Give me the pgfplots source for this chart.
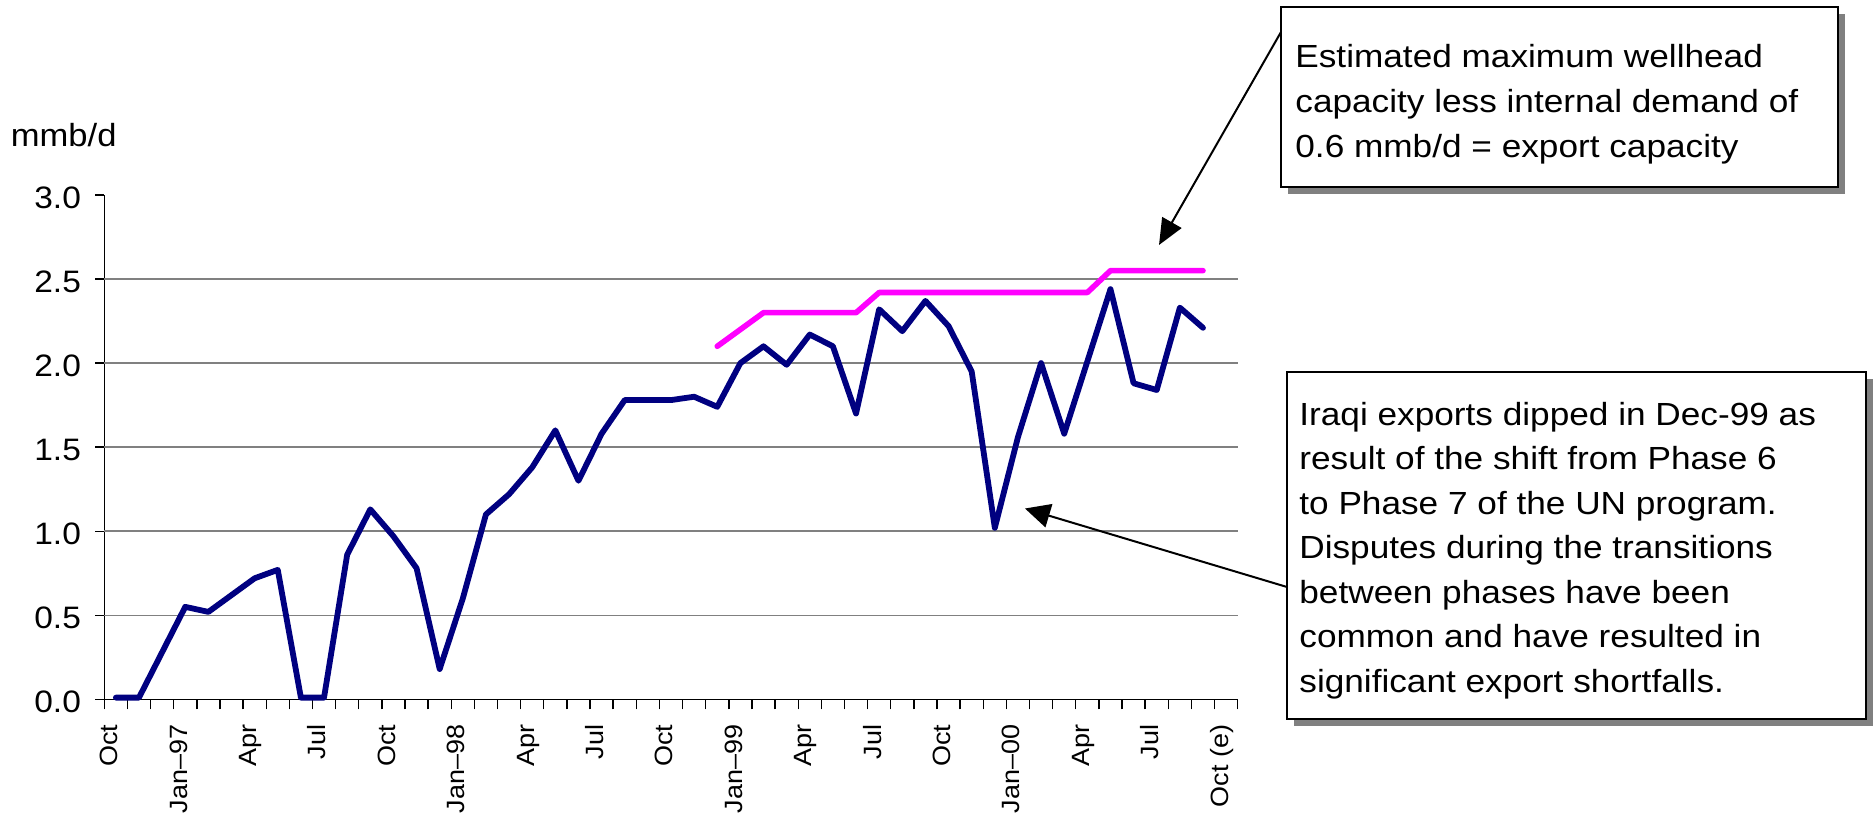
\documentclass[border=0pt]{standalone}
\usepackage{fontspec}
\setmainfont{Liberation Sans}[FakeStretch=1.08]
\newfontfamily\calloutfamily{Liberation Sans}[FakeStretch=1.1]
\usepackage{pgfplots}
\pgfplotsset{compat=1.18}
\usepackage{pgfplotstable}
\usetikzlibrary{arrows.meta}

\definecolor{exportblue}{RGB}{0,0,128}
\definecolor{capmagenta}{RGB}{255,0,255}
\definecolor{gridgray}{RGB}{128,128,128}
\definecolor{shadowgray}{RGB}{128,128,128}

% Iraqi crude exports, mmb/d; month 0 = Oct 1996
\pgfplotstableread{
month value
0 0.01
1 0.01
2 0.28
3 0.55
4 0.52
5 0.62
6 0.72
7 0.77
8 0.01
9 0.01
10 0.86
11 1.13
12 0.97
13 0.78
14 0.18
15 0.60
16 1.10
17 1.22
18 1.38
19 1.60
20 1.30
21 1.58
22 1.78
23 1.78
24 1.78
25 1.80
26 1.74
27 2.00
28 2.10
29 1.99
30 2.17
31 2.10
32 1.70
33 2.32
34 2.19
35 2.37
36 2.22
37 1.95
38 1.02
39 1.56
40 2.00
41 1.58
42 2.01
43 2.44
44 1.88
45 1.84
46 2.33
47 2.21
}\exportdata

% Export capacity (wellhead capacity less 0.6 mmb/d internal demand)
\pgfplotstableread{
month value
26 2.10
27 2.20
28 2.30
29 2.30
30 2.30
31 2.30
32 2.30
33 2.42
34 2.42
35 2.42
36 2.42
37 2.42
38 2.42
39 2.42
40 2.42
41 2.42
42 2.42
43 2.55
44 2.55
45 2.55
46 2.55
47 2.55
}\capacitydata

\newcommand{\annotfont}{\calloutfamily\fontsize{16pt}{22.5pt}\selectfont}

\begin{document}
\begin{tikzpicture}
\path[use as bounding box] (0pt,0pt) rectangle (938pt,-412.5pt);
\begin{axis}[
  at={(52.15pt,-349.65pt)}, anchor=south west,
  scale only axis, width=566.7pt, height=252.15pt,
  xmin=-0.5, xmax=48.5, ymin=0, ymax=3,
  clip=false,
  axis x line*=bottom, axis y line*=left,
  axis line style={-, black, line width=0.7pt},
  tick align=outside,
  tick style={black, line width=0.7pt},
  major tick length=4.5pt, minor tick length=5pt,
  xtick={0,3,...,48},
  xticklabels={Oct,Jan–97,Apr,Jul,Oct,Jan–98,Apr,Jul,Oct,Jan–99,Apr,Jul,Oct,Jan–00,Apr,Jul,Oct (e)},
  minor xtick={-0.5,0.5,...,48.5},
  every major x tick/.append style={draw=none},
  ytick={0,0.5,...,3},
  yticklabels={0.0,0.5,1.0,1.5,2.0,2.5,3.0},
  extra y ticks={0.5,1,1.5,2,2.5},
  extra y tick labels={},
  extra y tick style={grid=major},
  major grid style={gridgray, line width=0.75pt},
  yticklabel style={font=\fontsize{15.5pt}{17pt}\selectfont, inner sep=0pt, anchor=east,
    xshift=-7pt, yshift=-1.5pt},
  % shifts below act in the rotated frame: x runs up the page, y runs left
  xticklabel style={font=\fontsize{12.5pt}{14pt}\selectfont, rotate=90, anchor=east,
    inner sep=0pt, text height=9.4pt, text depth=2.5pt, xshift=-8pt, yshift=2.5pt},
]
\addplot[capmagenta, line width=2.8pt, line cap=round, line join=round]
  table[x=month, y=value]{\capacitydata};
\addplot[exportblue, line width=2.9pt, line cap=round, line join=round]
  table[x=month, y=value]{\exportdata};
\end{axis}

% unit label above the value axis
\node[anchor=base west, inner sep=0pt, font=\fontsize{16pt}{18pt}\selectfont]
  at (5.25pt,-73.35pt) {mmb/d};

\begin{scope}[x=0.5pt, y=-0.5pt]
  % capacity callout
  \fill[shadowgray] (1288,14) rectangle (1845,194);
  \draw[line width=1pt, fill=white] (1281,7) rectangle (1838,187);
  \node[anchor=base west, inner sep=0pt, font=\annotfont] at (1295,67) {Estimated maximum wellhead};
  \node[anchor=base west, inner sep=0pt, font=\annotfont] at (1295,112) {capacity less internal demand of};
  \node[anchor=base west, inner sep=0pt, font=\annotfont] at (1295,157) {0.6 mmb/d = export capacity};
  \draw[line width=1pt, -{Triangle[length=13pt, width=11pt]}] (1281,32) -- (1159,245);

  % Dec-99 dip callout
  \fill[shadowgray] (1294,379) rectangle (1873,726);
  \draw[line width=1pt, fill=white] (1287,372) rectangle (1866,719);
  \node[anchor=base west, inner sep=0pt, font=\annotfont] at (1299,425) {Iraqi exports dipped in Dec-99 as};
  \node[anchor=base west, inner sep=0pt, font=\annotfont] at (1299,469.5) {result of the shift from Phase 6};
  \node[anchor=base west, inner sep=0pt, font=\annotfont] at (1299,514) {to Phase 7 of the UN program.};
  \node[anchor=base west, inner sep=0pt, font=\annotfont] at (1299,558.5) {Disputes during the transitions};
  \node[anchor=base west, inner sep=0pt, font=\annotfont] at (1299,603) {between phases have been};
  \node[anchor=base west, inner sep=0pt, font=\annotfont] at (1299,647.5) {common and have resulted in};
  \node[anchor=base west, inner sep=0pt, font=\annotfont] at (1299,692) {significant export shortfalls.};
  \draw[line width=1pt, -{Triangle[length=12.5pt, width=12pt]}] (1287,587) -- (1025,508.5);
\end{scope}
\end{tikzpicture}
\end{document}
